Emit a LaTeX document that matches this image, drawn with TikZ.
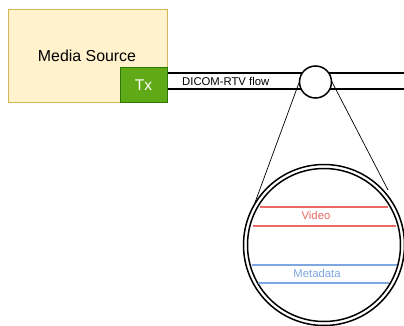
\documentclass[tikz,border=0pt]{standalone}
\usepackage{fontspec}
\setmainfont{Liberation Sans}
\begin{document}
\begin{tikzpicture}[x=1pt,y=-1pt,
  srcbox/.style={draw=srcborder,fill=srcfill,line width=1pt,minimum width=159pt,minimum height=93pt,inner sep=0pt},
  txbox/.style={draw=txborder,fill=txfill,line width=1pt,minimum width=47pt,minimum height=35pt,inner sep=0pt,text=white,font=\fontsize{15.5}{18}\selectfont},
  flowline/.style={line width=1.5pt,black},
  lens/.style={draw=black,line width=1.5pt,fill=white},
  zoomline/.style={line width=0.7pt,black},
  vidline/.style={draw=vidred,line width=1.5pt},
  metaline/.style={draw=metablue,line width=1.5pt},
  small/.style={font=\fontsize{11.3}{13}\selectfont,inner sep=0pt}]
\definecolor{srcfill}{HTML}{FFF2CC}
\definecolor{srcborder}{HTML}{D6B656}
\definecolor{txfill}{HTML}{60A917}
\definecolor{txborder}{HTML}{2D7600}
\definecolor{vidred}{HTML}{EA6B66}
\definecolor{metablue}{HTML}{7EA6E0}
\useasboundingbox (0,0) rectangle (404,326);
\node[srcbox] (src) at (87.5,56.5) {};
\node[font=\fontsize{15.9}{18}\selectfont,inner sep=0pt] (srclabel) at (87,56) {Media Source};
\node[txbox] (tx) at (143.5,85.5) {Tx};
\coordinate (t1) at (tx.east |- 0,73);
\coordinate (b1) at (tx.east |- 0,89);
\coordinate (t2) at (404,73);
\coordinate (b2) at (404,89);
\draw[flowline] (t1) -- (t2);
\draw[flowline] (b1) -- (b2);
\node[small,anchor=west] (flowlabel) at (182,81) {DICOM-RTV flow};
% big circle
\coordinate (bc) at (324,245);
\draw[line width=1.5pt,fill=white] (bc) circle (80.5);
\draw[line width=1.5pt] (bc) circle (76.5);
% zoom lines
\coordinate (zl1) at (300,80);
\coordinate (zl2) at (253,208);
\coordinate (zr1) at (331,80);
\coordinate (zr2) at (388,190);
\draw[zoomline] (zl1) -- (zl2);
\draw[zoomline] (zr1) -- (zr2);
\node[lens,circle,minimum size=32pt,inner sep=0pt] (lens) at (315.5,82) {};
% video
\coordinate (v1a) at (260,207); \coordinate (v1b) at (388,207);
\coordinate (v2a) at (253,226); \coordinate (v2b) at (396,226);
\draw[vidline] (v1a) -- (v1b);
\draw[vidline] (v2a) -- (v2b);
\node[small,text=vidred] (vid) at (316,215.5) {Video};
% metadata
\coordinate (m1a) at (252,265); \coordinate (m1b) at (397,265);
\coordinate (m2a) at (258,283); \coordinate (m2b) at (389,283);
\draw[metaline] (m1a) -- (m1b);
\draw[metaline] (m2a) -- (m2b);
\node[small,text=metablue] (meta) at (317,273) {Metadata};
\end{tikzpicture}
\end{document}
